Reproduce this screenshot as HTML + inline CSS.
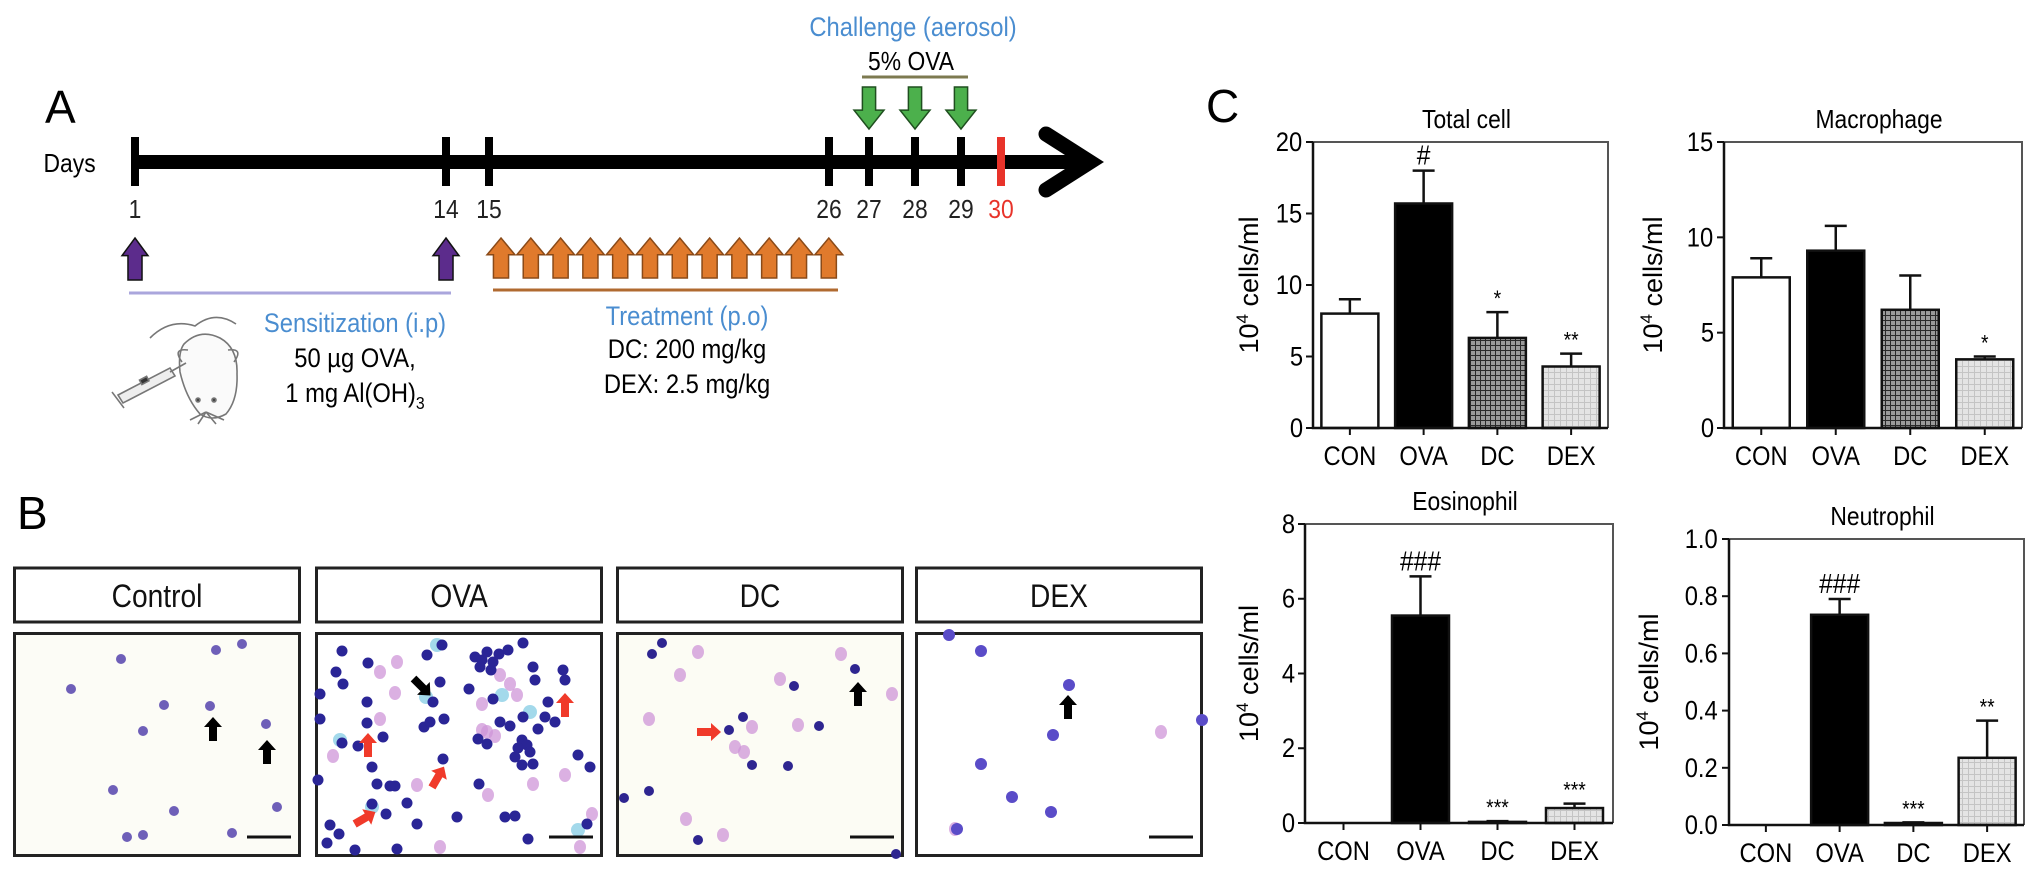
<!DOCTYPE html>
<html><head><meta charset="utf-8"><style>
html,body{margin:0;padding:0;background:#fff;}
svg{display:block;font-family:"Liberation Sans",sans-serif;}
.n{font-family:"Liberation Sans Narrow","Liberation Sans",sans-serif;transform-box:fill-box;transform-origin:center;transform:scaleX(0.88);}
</style></head><body>
<svg id="fig" width="2032" height="870" viewBox="0 0 2032 870" xmlns="http://www.w3.org/2000/svg">
<defs>
<pattern id="hatchDC" width="5" height="5" patternUnits="userSpaceOnUse"><rect width="5" height="5" fill="#9a9a9a"/><path d="M0 0.5H5M0.5 0V5" stroke="#2a2a2a" stroke-width="1"/></pattern>
<pattern id="hatchDEX" width="6" height="6" patternUnits="userSpaceOnUse"><rect width="6" height="6" fill="#e4e4e4"/><path d="M0 0.5H6M0.5 0V6" stroke="#c4c4c4" stroke-width="1"/></pattern>
</defs>

<!-- Panel A -->
<g>
<text x="45" y="123" font-size="46">A</text>
<text x="40" y="172" font-size="26" class="n">Days</text>
<line x1="135" y1="162" x2="1080" y2="162" stroke="#000" stroke-width="14"/>
<polyline points="1046,134 1090,162 1046,190" fill="none" stroke="#000" stroke-width="15" stroke-linecap="round" stroke-linejoin="miter"/>
<g id="ticks"></g>
<text x="913" y="36" font-size="27" fill="#4a8dd0" text-anchor="middle" class="n">Challenge (aerosol)</text>
<text x="911" y="70" font-size="26" text-anchor="middle" class="n">5% OVA</text>
<line x1="862" y1="77" x2="968" y2="77" stroke="#7d7a50" stroke-width="3"/>
<g id="arrows"></g>
<line x1="129" y1="293" x2="451" y2="293" stroke="#aaa6dc" stroke-width="3"/>
<line x1="493" y1="290" x2="838" y2="290" stroke="#b06a30" stroke-width="3"/>
<text x="355" y="332" font-size="27" fill="#4a8dd0" text-anchor="middle" class="n">Sensitization (i.p)</text>
<text x="355" y="367" font-size="27" text-anchor="middle" class="n">50 µg OVA,</text>
<text x="355" y="402" font-size="27" text-anchor="middle" class="n">1 mg Al(OH)<tspan font-size="18" dy="7">3</tspan></text>
<text x="687" y="325" font-size="27" fill="#4a8dd0" text-anchor="middle" class="n">Treatment (p.o)</text>
<text x="687" y="358" font-size="27" text-anchor="middle" class="n">DC: 200 mg/kg</text>
<text x="687" y="393" font-size="27" text-anchor="middle" class="n">DEX: 2.5 mg/kg</text>
<g fill="none" stroke="#777" stroke-width="1.6">
<path d="M150 338 Q170 318 195 326 Q215 310 236 324"/>
<path d="M184 344 Q200 328 220 338 Q238 348 237 374 Q238 400 226 414 Q212 422 200 414 Q186 398 180 372 Q178 352 184 344Z" fill="#fafafa"/>
<path d="M182 362 Q172 348 188 350 M234 362 Q244 348 228 350"/>
<circle cx="198" cy="400" r="2" fill="#444"/><circle cx="214" cy="400" r="2" fill="#444"/>
<path d="M206 412 L190 420 M206 412 L224 420 M206 412 L198 424 M206 412 L216 424"/>
<path d="M118 395 L170 368 L175 376 L123 403Z" fill="#eee"/>
<line x1="170" y1="372" x2="186" y2="363"/><line x1="112" y1="392" x2="124" y2="408"/>
<rect x="140" y="378" width="8" height="5" fill="#333" transform="rotate(-28 144 380)"/>
</g>
</g>

<!-- Panel B -->
<g>
<text x="17" y="529" font-size="46">B</text>
<g id="micro"></g>
</g>

<!-- Panel C -->
<text x="1206" y="122" font-size="46">C</text>
<g id="charts"></g>
</svg>

<script>
// ---------- Chart data ----------
const categories = ["CON","OVA","DC","DEX"];
const totalValues = [8.0, 15.7, 6.3, 4.3];
const totalErrors = [9.0, 18.0, 8.1, 5.2];
const totalMarks = ["", "#", "*", "**"];
const totalTicks = [0,5,10,15,20];
const macroValues = [7.9, 9.3, 6.2, 3.6];
const macroErrors = [8.9, 10.6, 8.0, 3.75];
const macroMarks = ["", "", "", "*"];
const macroTicks = [0,5,10,15];
const eosValues = [0, 5.55, 0.03, 0.4];
const eosErrors = [0, 6.6, 0.05, 0.52];
const eosMarks = ["", "###", "***", "***"];
const eosTicks = [0,2,4,6,8];
const neutValues = [0, 0.735, 0.007, 0.235];
const neutErrors = [0, 0.79, 0.009, 0.365];
const neutMarks = ["", "###", "***", "**"];
const neutTicks = ["0.0","0.2","0.4","0.6","0.8","1.0"];

const NS = "http://www.w3.org/2000/svg";
function mk(tag, attrs, parent, text){
  const e = document.createElementNS(NS, tag);
  for (const k in attrs) e.setAttribute(k, attrs[k]);
  if (text !== undefined) e.textContent = text;
  parent.appendChild(e); return e;
}

// ---------- Timeline ----------
const dayLabels = ["1","14","15","26","27","28","29","30"];
const dayX = [135,446,489,829,869,915,961,1001];
const tg = document.getElementById('ticks');
dayLabels.forEach((d,i)=>{
  const red = d==="30";
  const t = mk('line',{x1:dayX[i],y1:137,x2:dayX[i],y2:186,stroke:red?'#e8332a':'#000','stroke-width':8},tg);
  
  
  const l = mk('text',{x:dayX[i],y:218,'font-size':26,'text-anchor':'middle',fill:red?'#e8332a':'#222',class:'n'},tg,d);
  
  
});
const ag = document.getElementById('arrows');
function upArrow(cx, top, h, w, fill, stroke, name){
  const hw=w/2, sw=w*0.27, hh=h*0.42;
  const p = mk('polygon',{points:`${cx},${top} ${cx+hw},${top+hh} ${cx+sw},${top+hh} ${cx+sw},${top+h} ${cx-sw},${top+h} ${cx-sw},${top+hh} ${cx-hw},${top+hh}`,fill:fill,stroke:stroke,'stroke-width':1.5},ag);
  
  
}
function downArrow(cx, top, h, w, fill, stroke, name){
  const hw=w/2, sw=w*0.22, hh=h*0.45;
  const p = mk('polygon',{points:`${cx},${top+h} ${cx+hw},${top+h-hh} ${cx+sw},${top+h-hh} ${cx+sw},${top} ${cx-sw},${top} ${cx-sw},${top+h-hh} ${cx-hw},${top+h-hh}`,fill:fill,stroke:stroke,'stroke-width':1.5},ag);
  
  
}
upArrow(135,238,42,26,'#5c2c8c','#111','sensitization-arrow-day1');
upArrow(446,238,42,26,'#5c2c8c','#111','sensitization-arrow-day14');
for(let i=0;i<12;i++) upArrow(501+i*29.8,238,40,28,'#e07a2c','#8a4a18','treatment-arrow');
[869,915,961].forEach(x=>downArrow(x,87,42,30,'#4cb04c','#1f4f1f','challenge-arrow'));

// ---------- Micrographs ----------
const panels = [
 {name:'control',label:'Control',x:13,bg:'#fcfcf6'},
 {name:'ova',label:'OVA',x:315,bg:'#ffffff'},
 {name:'dc',label:'DC',x:616,bg:'#fcfcf4'},
 {name:'dex',label:'DEX',x:915,bg:'#ffffff'}];
const controlCells=[[203,18],[229,12],[108,27],[58,57],[151,73],[197,74],[253,92],[130,99],[100,158],[161,179],[264,175],[114,205],[130,203],[219,201]];
const ovaCells=[[27,19],[53,31],[21,40],[28,52],[112,23],[127,13],[125,50],[52,70],[52,91],[68,105],[27,111],[43,114],[57,135],[62,152],[80,154],[75,154],[109,95],[115,90],[129,87],[118,70],[92,171],[57,172],[71,182],[102,192],[15,193],[24,202],[12,211],[40,218],[142,185],[164,152],[128,127],[154,57],[178,67],[160,25],[167,28],[172,20],[178,30],[184,22],[165,35],[176,38],[208,11],[193,18],[218,35],[220,48],[248,38],[250,48],[233,70],[230,85],[208,85],[185,90],[195,94],[223,97],[240,90],[207,108],[212,113],[203,116],[215,120],[200,125],[218,132],[207,133],[263,123],[275,135],[172,112],[163,107],[190,185],[200,184],[213,207],[272,192],[82,217],[5,62],[5,87],[3,148]];
const ovaPink=[[65,40],[82,30],[80,61],[65,87],[18,124],[102,153],[167,72],[185,43],[195,52],[167,98],[218,152],[250,143],[173,163],[277,182],[265,215],[125,215],[202,63],[172,100],[180,104]];
const ovaBlue=[[25,108],[111,65],[187,63],[215,80],[263,198],[57,175],[122,13]];
const dcCells=[[36,22],[46,11],[178,54],[239,37],[127,85],[113,98],[203,94],[136,133],[172,134],[33,159],[8,166],[82,208],[280,222]];
const dcPink=[[82,20],[64,43],[164,47],[33,87],[136,95],[182,93],[119,115],[276,62],[70,187],[107,203],[225,22],[128,120]];
const dexCells=[[66,19],[34,3],[154,53],[138,103],[66,132],[97,165],[136,180],[42,197],[287,88]];
const dexPink=[[246,100],[40,197]];
const mg=document.getElementById('micro');
panels.forEach(p=>{
  const g=mk('g',{transform:`translate(${p.x},0)`},mg);
  
  
  const h=mk('rect',{x:1.5,y:568,width:285,height:54,fill:'#fff',stroke:'#222','stroke-width':3},g);
  
  
  const t=mk('text',{x:144,y:607,'font-size':32,'text-anchor':'middle',fill:'#111',class:'n'},g,p.label);
  
  
  const img=mk('g',{transform:'translate(0,632)'},g);
  mk('rect',{x:1.5,y:1.5,width:285,height:222,fill:p.bg,stroke:'#222','stroke-width':3},img);
  let cells=[],pink=[],blue=[],r=5,col='#3a35a8';
  if(p.name==='control'){cells=controlCells;col='#6e5fb8';r=5;}
  if(p.name==='ova'){cells=ovaCells;pink=ovaPink;blue=ovaBlue;col='#2a2596';r=5.5;}
  if(p.name==='dc'){cells=dcCells;pink=dcPink;col='#2e2590';r=5;}
  if(p.name==='dex'){cells=dexCells;pink=dexPink;col='#5a4cc8';r=6;}
  blue.forEach(c=>mk('circle',{cx:c[0],cy:c[1],r:7,fill:'#8cd0e6',opacity:0.8},img));
  pink.forEach(c=>mk('ellipse',{cx:c[0],cy:c[1],rx:6,ry:7,fill:'#cf96d8',opacity:0.75},img));
  cells.forEach(c=>mk('circle',{cx:c[0],cy:c[1],r:r,fill:col},img));
  const sb=mk('line',{x1:234,y1:205,x2:278,y2:205,stroke:'#111','stroke-width':3},img);
  
  
});
function microArrow(panelX, lx, ly, ang, color, name){
  const g=mk('g',{transform:`translate(${panelX+lx},${632+ly}) rotate(${ang})`},mg);
  
  
  mk('polygon',{points:'0,-12 9,-2 4,-2 4,12 -4,12 -4,-2 -9,-2',fill:color},g);
}
microArrow(13,200,97,0,'#000','black-arrow');
microArrow(13,254,120,0,'#000','black-arrow');
microArrow(315,107,55,135,'#000','black-arrow');
microArrow(315,53,113,0,'#f03a2a','red-arrow');
microArrow(315,123,145,30,'#f03a2a','red-arrow');
microArrow(315,50,186,60,'#f03a2a','red-arrow');
microArrow(315,250,73,0,'#f03a2a','red-arrow');
microArrow(616,93,100,90,'#f03a2a','red-arrow');
microArrow(616,242,62,0,'#000','black-arrow');
microArrow(915,153,75,0,'#000','black-arrow');

// ---------- Bar charts ----------
const fills=['#ffffff','#000000','url(#hatchDC)','url(#hatchDEX)'];
const cg=document.getElementById('charts');
function barChart(o){
  const g=mk('g',{},cg);
  
  
  const maxV=parseFloat(o.ticks[o.ticks.length-1]);
  const y=v=>o.bot-(v/maxV)*(o.bot-o.top);
  const step=(o.x1-o.x0)/o.values.length;
  const cx=i=>o.x0+(i+0.5)*step;
  const bw=57;
  const tt=mk('text',{x:(o.x0+o.x1)/2+6,y:o.top-14,'font-size':26,'text-anchor':'middle',class:'n'},g,o.title);
  
  
  const fr=mk('path',{d:`M${o.x0} ${o.top}H${o.x1}V${o.bot}`,fill:'none',stroke:'#555','stroke-width':2},g);
  
  
  o.values.forEach((v,i)=>{
    const yt=y(v), ye=y(o.errors[i]);
    if(o.errors[i]>v){
      const e=mk('path',{d:`M${cx(i)} ${yt}V${ye}M${cx(i)-11} ${ye}H${cx(i)+11}`,stroke:'#111','stroke-width':2.5,fill:'none'},g);
      
      
    }
    if(v>0){
      const b=mk('rect',{x:cx(i)-bw/2,y:yt,width:bw,height:o.bot-yt,fill:fills[i],stroke:'#111','stroke-width':2.5},g);
      
      
    }
    if(o.marks[i]){
      const m=mk('text',{x:cx(i),y:ye-6,'font-size':o.marks[i][0]==='#'?28:22,'text-anchor':'middle',class:'n'},g,o.marks[i]);
      
      
    }
    const tk=mk('line',{x1:cx(i),y1:o.bot,x2:cx(i),y2:o.bot+7,stroke:'#111','stroke-width':2},g);
    
    
    const xl=mk('text',{x:cx(i),y:o.bot+37,'font-size':27,'text-anchor':'middle',class:'n'},g,categories[i]);
    
    
  });
  const ax=mk('path',{d:`M${o.x0} ${o.top}V${o.bot}H${o.x1}`,fill:'none',stroke:'#111','stroke-width':2.5},g);
  
  
  o.ticks.forEach(t=>{
    const yy=y(parseFloat(t));
    const tl=mk('line',{x1:o.x0-7,y1:yy,x2:o.x0,y2:yy,stroke:'#111','stroke-width':2},g);
    
    
    const tx=mk('text',{x:o.x0-9,y:yy+9,'font-size':27,'text-anchor':'end',class:'n'},g,String(t));
    
    
  });
  const yl=mk('text',{x:0,y:0,'font-size':27,'text-anchor':'middle',transform:`translate(${o.ylx},${(o.top+o.bot)/2}) rotate(-90)`},g);
  
  
  mk('tspan',{},yl,'10');
  mk('tspan',{dy:-10,'font-size':17},yl,'4');
  mk('tspan',{dy:10},yl,' cells/ml');
}
barChart({name:'chart-total-cell',title:'Total cell',x0:1313,x1:1608,top:142,bot:428,ticks:totalTicks,values:totalValues,errors:totalErrors,marks:totalMarks,ylx:1258});
barChart({name:'chart-macrophage',title:'Macrophage',x0:1724,x1:2022,top:142,bot:428,ticks:macroTicks,values:macroValues,errors:macroErrors,marks:macroMarks,ylx:1662});
barChart({name:'chart-eosinophil',title:'Eosinophil',x0:1305,x1:1613,top:524,bot:823,ticks:eosTicks,values:eosValues,errors:eosErrors,marks:eosMarks,ylx:1258});
barChart({name:'chart-neutrophil',title:'Neutrophil',x0:1729,x1:2024,top:539,bot:825,ticks:neutTicks,values:neutValues,errors:neutErrors,marks:neutMarks,ylx:1658});
</script>
</body></html>
